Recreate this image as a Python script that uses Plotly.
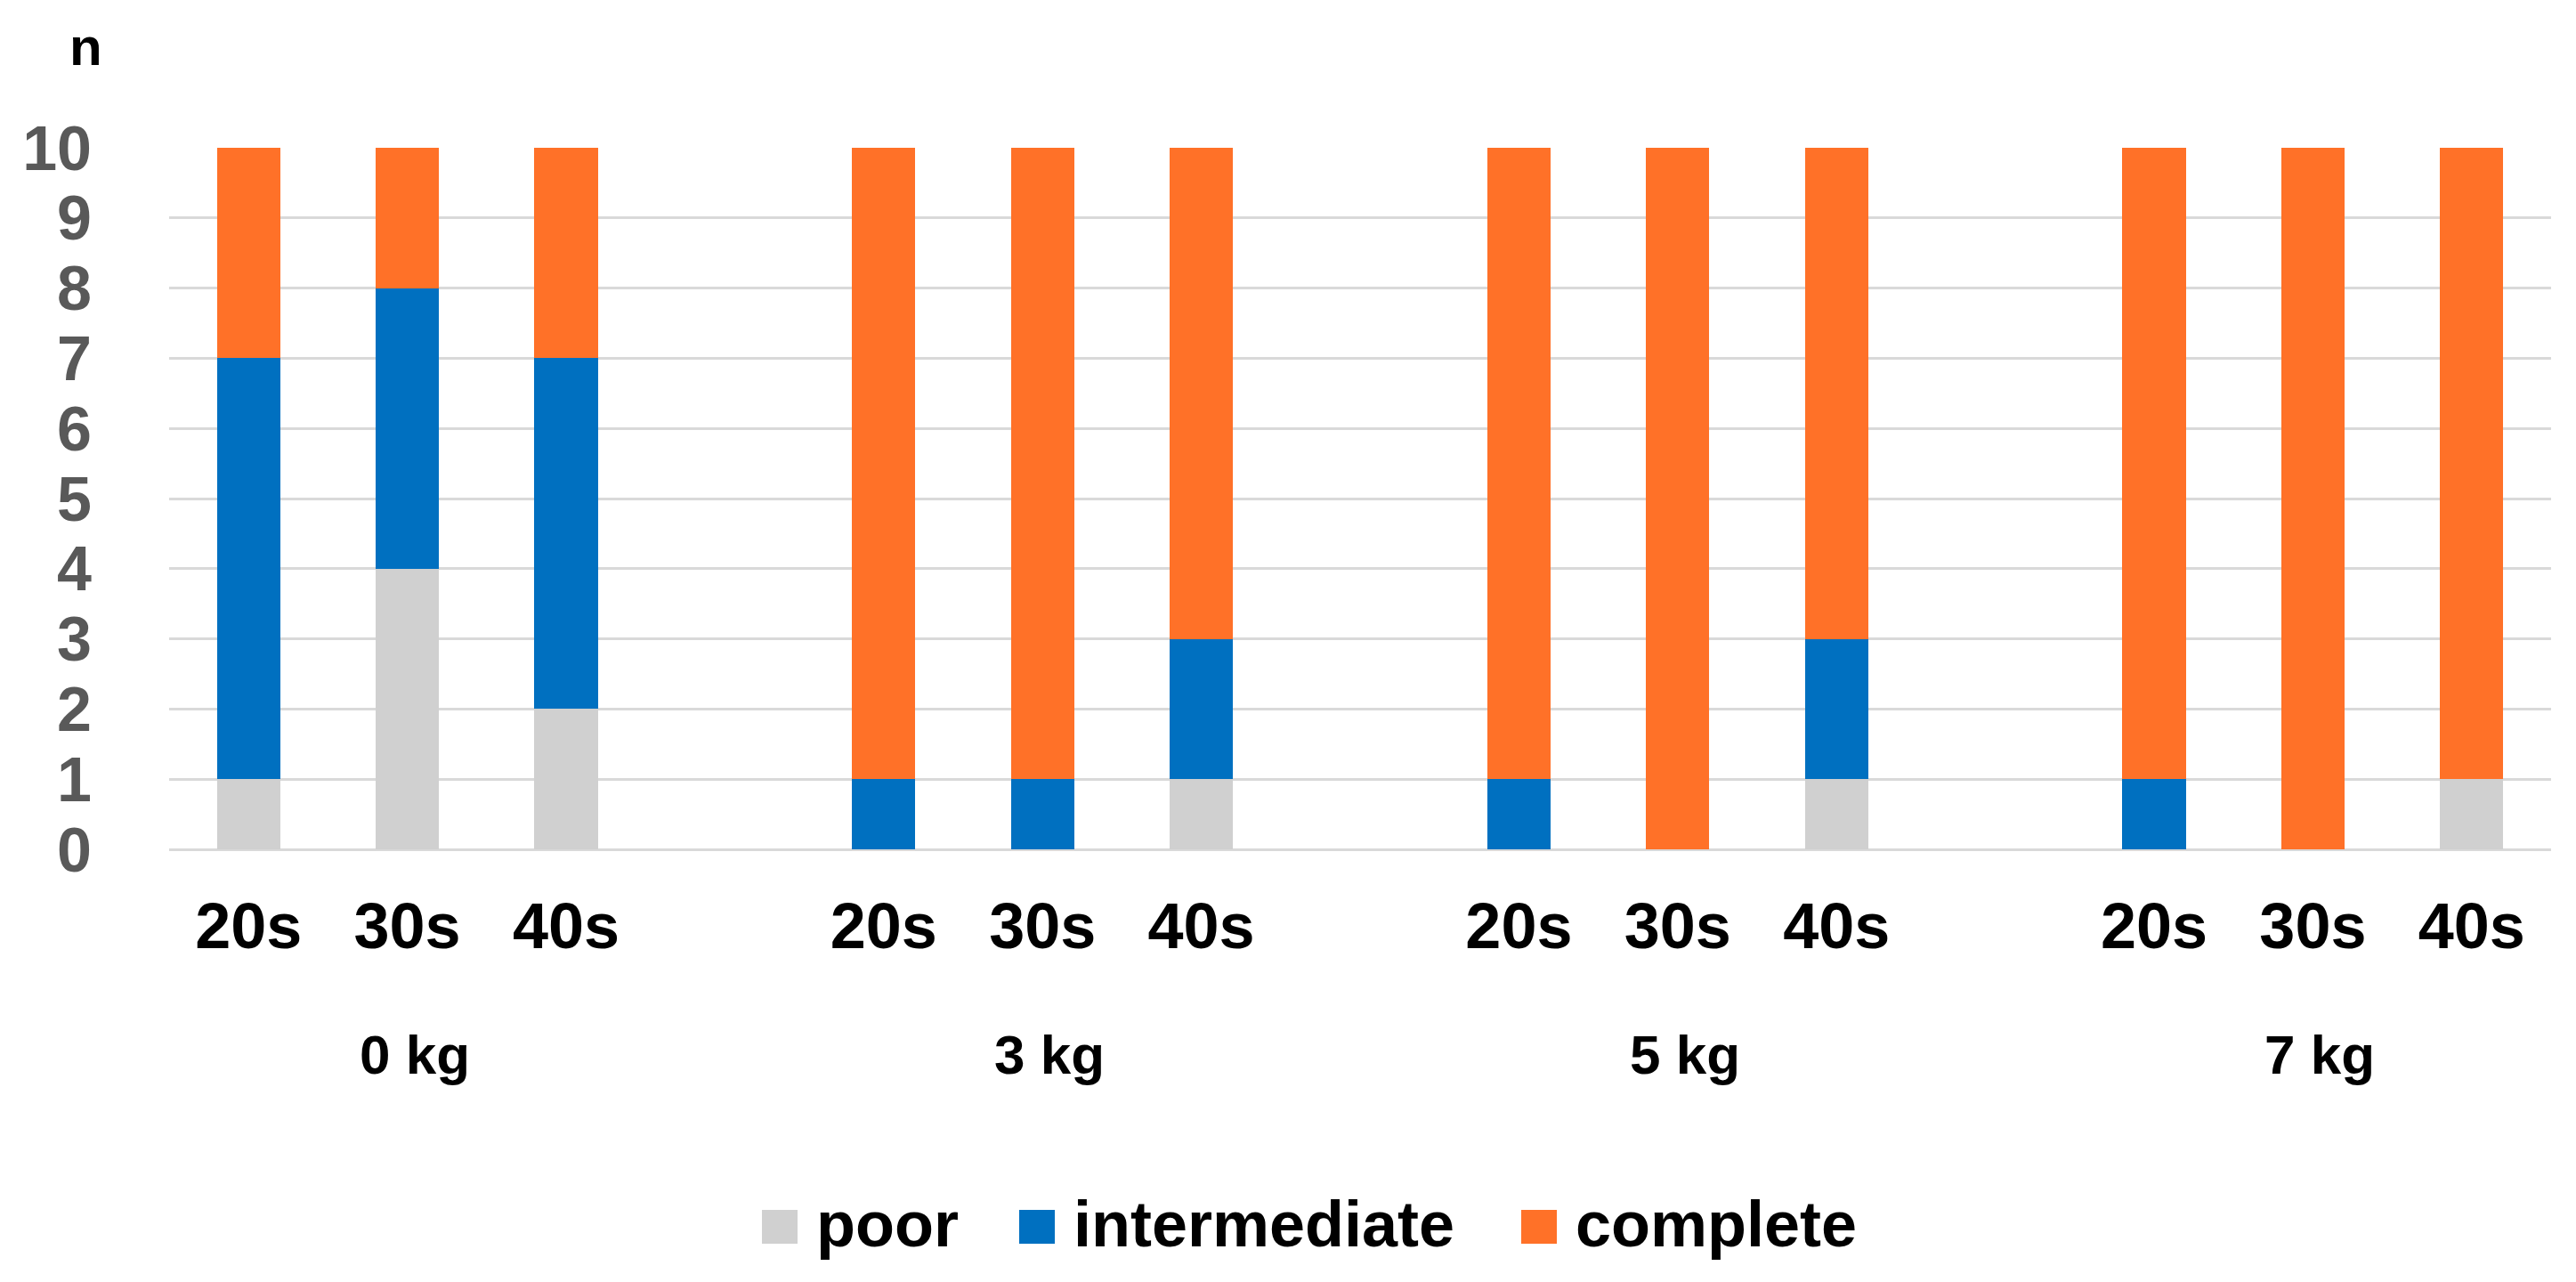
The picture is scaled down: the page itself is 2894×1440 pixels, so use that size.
import plotly.graph_objects as go

groups = ["0 kg", "3 kg", "5 kg", "7 kg"]
ages = ["20s", "30s", "40s"]
series_names = ["poor", "intermediate", "complete"]
colors = ["#D0D0D0", "#0070C0", "#FF7128"]

# values per bar, order: 0kg(20s,30s,40s), 3kg(...), 5kg(...), 7kg(...)
poor =         [1, 4, 2,  0, 0, 1,  0, 0, 1,  0, 0, 1]
intermediate = [6, 4, 5,  1, 1, 2,  1, 0, 2,  1, 0, 0]
complete =     [3, 2, 3,  9, 9, 7,  9, 10, 7, 9, 10, 9]
y_ticks = list(range(0, 11))

values = [poor, intermediate, complete]

slot = len(ages) + 1
xpos = [g * slot + a for g in range(len(groups)) for a in range(len(ages))]
xlabels = [a for g in groups for a in ages]

W, H = 2894, 1440
ML, MR, MT, MB = 182, 36, 158, 494
PW, PH = W - ML - MR, H - MT - MB

def px_to_paper_x(px):
    return (px - ML) / PW

def py_to_paper_y(py):
    return (H - MB - py) / PH

FONT = "Liberation Sans, Arial, sans-serif"

fig = go.Figure()
for name, vals, col in zip(series_names, values, colors):
    fig.add_trace(go.Bar(x=xpos, y=vals, name=name, marker=dict(color=col, line=dict(width=0)),
                         showlegend=False))

fig.update_layout(
    width=W, height=H,
    margin=dict(l=ML, r=MR, t=MT, b=MB),
    barmode="stack", bargap=0.6,
    plot_bgcolor="white", paper_bgcolor="white",
    font=dict(family=FONT),
)
fig.update_xaxes(
    range=[-0.5, len(groups) * slot - 1.5],
    tickmode="array", tickvals=xpos, ticktext=xlabels,
    tickfont=dict(size=72, color="black", family=FONT, weight="bold"),
    ticks="outside", ticklen=24, tickcolor="rgba(0,0,0,0)",
    showgrid=False, showline=False, zeroline=False,
)
fig.update_yaxes(
    range=[0, 10], tickmode="array", tickvals=y_ticks,
    tickfont=dict(size=70, color="#595959", family=FONT, weight="bold"),
    ticks="outside", ticklen=72, tickcolor="rgba(0,0,0,0)",
    showgrid=True, gridcolor="#D9D9D9", gridwidth=3,
    zeroline=True, zerolinecolor="#D9D9D9", zerolinewidth=3,
    showline=False,
)

annotations = []
for g, name in enumerate(groups):
    annotations.append(dict(x=g * slot + (len(ages) - 1) / 2, xref="x", y=py_to_paper_y(1176), yref="paper",
                            text=name, showarrow=False, xanchor="center", yanchor="middle", xshift=8,
                            font=dict(size=62, color="black", family=FONT, weight="bold")))
annotations.append(dict(x=px_to_paper_x(89), xref="paper", y=py_to_paper_y(45), yref="paper",
                        text="n", showarrow=False, xanchor="center", yanchor="middle",
                        font=dict(size=60, color="black", family=FONT, weight="bold")))

# custom legend (large square swatches)
swatch_left = [848, 1137, 1701]
sw_w, sw_h = 40, 38
leg_y = 1370
shapes = []
for name, col, sx in zip(series_names, colors, swatch_left):
    shapes.append(dict(type="rect", xref="paper", yref="paper",
                       x0=px_to_paper_x(sx), x1=px_to_paper_x(sx + sw_w),
                       y0=py_to_paper_y(leg_y + sw_h / 2), y1=py_to_paper_y(leg_y - sw_h / 2),
                       fillcolor=col, line=dict(width=0)))
    annotations.append(dict(x=px_to_paper_x(sx + sw_w + 19), xref="paper", y=py_to_paper_y(leg_y - 3), yref="paper",
                            text=name, showarrow=False, xanchor="left", yanchor="middle",
                            font=dict(size=72, color="black", family=FONT, weight="bold")))

fig.update_layout(annotations=annotations, shapes=shapes)
fig.write_html("out.html")
